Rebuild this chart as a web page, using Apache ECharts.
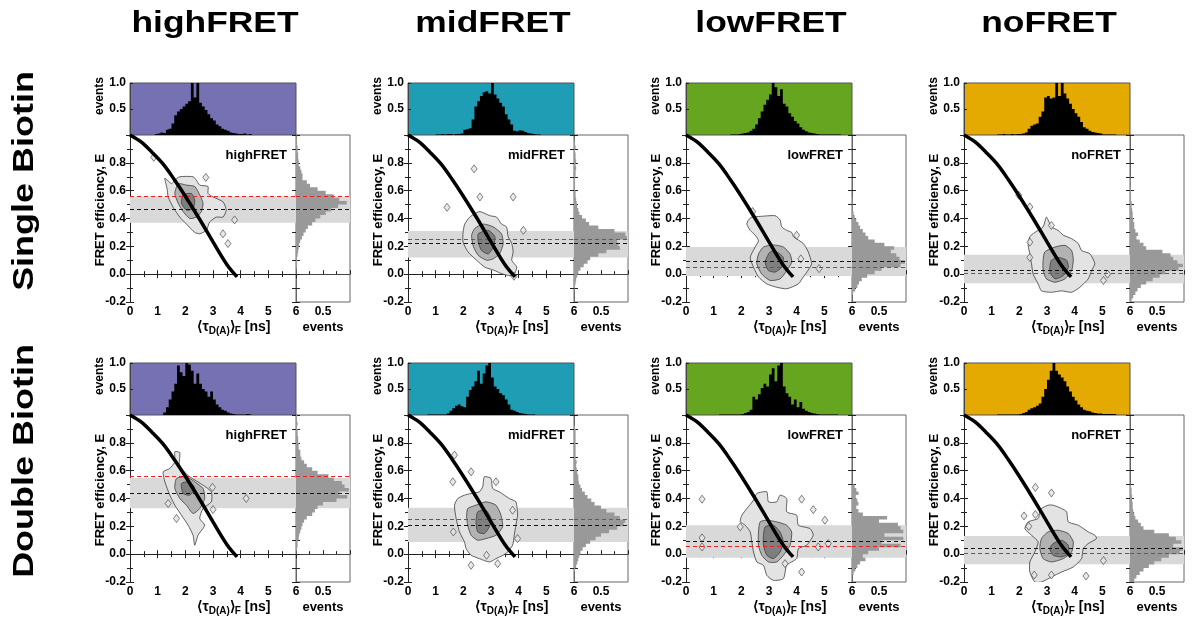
<!DOCTYPE html>
<html>
<head>
<meta charset="utf-8">
<script src="https://cdn.jsdelivr.net/npm/echarts@6/dist/echarts.min.js"></script>
<style>
  html, body { margin: 0; padding: 0; background: #fff; }
  #chart { width: 1192px; height: 626px; }
</style>
</head>
<body>
<div id="chart"></div>
<script>
// ---------------------------------------------------------------------------
// Data
// ---------------------------------------------------------------------------
const columnNames = ['highFRET', 'midFRET', 'lowFRET', 'noFRET'];
const rowNames = ['Single Biotin', 'Double Biotin'];
const columnColors = ['#7571b3', '#1f9db4', '#66a51f', '#e5aa02'];

// lifetime histograms (0.1 ns bins from 0 to 6 ns, normalised to peak)
const TAU_BIN = 0.1;
const tauSingleHigh = [0,0,0,0,0,0,0,0,0,0.02,0.03,0.05,0.04,0.1,0.12,0.22,0.38,0.45,0.5,0.55,0.6,0.65,1.0,0.72,1.0,0.62,0.55,0.48,0.4,0.32,0.28,0.2,0.17,0.12,0.1,0.08,0.05,0.04,0.03,0.02,0.02,0.03,0.01,0.02,0,0,0,0,0,0,0,0,0,0,0,0,0,0,0,0];
const tauSingleMid = [0,0,0,0,0,0,0,0,0,0,0.01,0.01,0.02,0.01,0.02,0.02,0.01,0.02,0.02,0.03,0.1,0.11,0.13,0.3,0.55,0.65,0.75,0.82,0.84,0.8,1.0,0.78,0.7,0.62,0.55,0.4,0.3,0.2,0.08,0.07,0.09,0.08,0.06,0.04,0.03,0.02,0.01,0.01,0,0,0,0,0,0,0,0,0,0,0,0];
const tauSingleLow = [0,0,0,0,0,0,0,0,0,0,0,0,0,0,0,0,0.01,0.01,0.01,0.02,0.03,0.04,0.05,0.08,0.12,0.2,0.32,0.45,0.58,0.68,0.78,1.0,0.92,0.75,0.88,0.6,0.55,0.42,0.35,0.27,0.22,0.15,0.1,0.07,0.05,0.04,0.03,0.02,0.01,0.01,0.01,0.01,0.01,0.01,0.01,0.01,0,0,0,0];
const tauSingleNo = [0,0,0,0,0,0,0,0,0,0,0,0,0.01,0.01,0.02,0.01,0.01,0.02,0.01,0.02,0.02,0.03,0.05,0.12,0.18,0.2,0.22,0.35,0.45,0.72,0.75,0.7,0.72,1.0,0.75,1.0,0.8,0.7,0.6,0.5,0.42,0.35,0.25,0.15,0.12,0.08,0.06,0.05,0.04,0.03,0.01,0.01,0.01,0.01,0.01,0,0,0,0,0];
const tauDoubleHigh = [0,0,0,0,0,0,0,0,0,0,0,0,0.05,0.15,0.3,0.45,0.6,0.95,0.82,0.75,1.0,0.97,0.85,0.6,0.8,0.6,0.5,0.45,0.35,0.45,0.3,0.2,0.15,0.1,0.08,0.05,0.03,0.02,0.01,0.01,0.01,0.01,0.02,0.01,0,0,0,0,0,0,0,0,0,0,0,0,0,0,0,0];
const tauDoubleMid = [0,0,0,0,0,0,0,0.01,0.01,0.01,0.01,0.01,0.01,0.01,0.03,0.08,0.13,0.18,0.2,0.17,0.15,0.35,0.48,0.55,0.65,0.85,0.6,0.8,0.95,1.0,0.72,0.55,0.5,0.42,0.38,0.3,0.2,0.1,0.08,0.06,0.04,0.03,0.02,0.01,0.01,0.01,0,0,0,0,0,0,0,0,0,0,0,0,0,0];
const tauDoubleLow = [0,0,0,0,0,0,0,0,0,0,0,0,0.01,0.01,0.01,0.01,0.01,0.01,0.01,0.01,0.02,0.04,0.06,0.1,0.35,0.3,0.4,0.52,0.6,0.55,0.78,0.9,0.65,0.95,1.0,0.55,0.42,0.35,0.2,0.3,0.15,0.25,0.12,0.08,0.06,0.04,0.03,0.02,0.01,0.01,0.01,0.01,0.01,0.01,0.01,0,0,0,0,0];
const tauDoubleNo = [0,0,0,0,0,0,0,0,0,0,0,0,0.01,0.01,0.01,0.01,0.01,0.01,0.01,0.01,0.02,0.04,0.06,0.1,0.13,0.15,0.18,0.22,0.35,0.5,0.68,0.85,1.0,0.85,0.78,0.72,0.65,0.55,0.45,0.35,0.28,0.2,0.15,0.1,0.08,0.07,0.05,0.04,0.03,0.03,0.02,0.02,0.02,0.02,0.02,0,0,0,0,0];

// FRET efficiency histograms (0.025 bins from -0.2 to 1.0)
const E_BIN = 0.025, E_START = -0.2;
const eSingleHigh = [0,0,0,0,0,0,0,0,0.01,0.01,0.02,0.02,0.02,0.03,0.04,0.05,0.06,0.08,0.11,0.14,0.18,0.22,0.3,0.36,0.45,0.55,0.65,0.78,0.94,0.8,0.7,0.55,0.4,0.26,0.2,0.12,0.12,0.1,0.08,0.05,0.05,0.04,0.04,0.03,0.03,0.02,0.02,0.01];
const eSingleMid = [0,0,0,0.01,0.02,0.03,0.04,0.06,0.08,0.12,0.18,0.25,0.3,0.45,0.6,0.85,0.82,0.8,0.98,0.95,0.75,0.45,0.28,0.22,0.15,0.1,0.08,0.06,0.05,0.04,0.03,0.03,0.02,0.02,0.02,0.02,0.03,0.03,0.04,0.03,0.04,0.03,0.03,0.02,0.03,0.02,0.01,0];
const eSingleLow = [0,0,0.02,0.06,0.1,0.13,0.18,0.28,0.42,0.55,0.9,0.98,0.88,0.82,0.72,0.78,0.6,0.42,0.3,0.25,0.2,0.15,0.12,0.08,0.05,0.03,0.01,0.01,0.01,0.01,0,0,0,0,0,0,0,0,0,0,0,0,0,0,0,0,0,0];
const eSingleNo = [0.03,0.06,0.1,0.14,0.2,0.3,0.42,0.55,0.65,0.9,0.98,0.88,0.8,0.75,0.6,0.3,0.25,0.18,0.12,0.15,0.1,0.08,0.08,0.06,0.05,0.05,0.04,0.03,0.03,0.02,0.02,0.02,0.02,0.01,0.01,0.01,0,0,0,0,0,0,0,0,0,0,0,0];
const eDoubleHigh = [0,0,0,0,0,0,0,0,0.01,0.02,0.03,0.03,0.05,0.06,0.08,0.1,0.12,0.15,0.2,0.3,0.35,0.4,0.5,0.75,0.95,0.8,0.98,0.9,0.85,0.7,0.6,0.4,0.3,0.2,0.15,0.1,0.08,0.08,0.05,0.05,0.04,0.04,0.03,0.03,0.02,0.03,0.02,0.02];
const eDoubleMid = [0,0,0,0.02,0.04,0.06,0.08,0.1,0.12,0.16,0.22,0.3,0.4,0.5,0.65,0.8,0.92,0.95,0.85,0.75,0.6,0.5,0.38,0.32,0.25,0.2,0.15,0.12,0.09,0.08,0.08,0.06,0.05,0.04,0.05,0.03,0.03,0.03,0.03,0.03,0.03,0.03,0.03,0.03,0.02,0,0,0];
const eDoubleLow = [0,0,0.03,0.06,0.1,0.15,0.25,0.2,0.3,0.5,0.9,0.55,0.95,0.6,0.95,0.9,0.85,0.5,0.65,0.2,0.12,0.08,0.12,0.1,0.07,0.12,0.08,0.05,0,0,0,0,0,0,0,0,0,0,0,0,0,0,0,0,0,0,0,0];
const eDoubleNo = [0.08,0.12,0.18,0.25,0.35,0.45,0.58,0.72,0.92,0.98,0.8,0.95,0.85,0.72,0.45,0.25,0.2,0.15,0.1,0.08,0.06,0.05,0.05,0.04,0.04,0.03,0.03,0.02,0,0,0,0,0,0,0,0,0,0,0,0,0,0,0,0,0,0,0,0];

// shaded E range, mean E (black dashed) and reference E (red dashed) per column
const bandLoSingle = [0.37, 0.12, -0.014, -0.065];
const bandHiSingle = [0.56, 0.31, 0.195, 0.14];
const meanESingle = [0.465, 0.219, 0.094, 0.034];
const refESingle = [0.555, 0.248, 0.05, 0.012];
const bandLoDouble = [0.33, 0.088, -0.025, -0.073];
const bandHiDouble = [0.55, 0.333, 0.208, 0.131];
const meanEDouble = [0.438, 0.206, 0.088, 0.035];
const refEDouble = [0.56, 0.251, 0.06, 0.014];

// static FRET line (tau in ns, E)
const staticLine = [[0,1.0],[0.4,0.95],[0.8,0.875],[1.2,0.79],[1.6,0.68],[2.0,0.56],[2.5,0.4],[3.0,0.232],[3.5,0.07],[3.87,-0.02]];

// 2D density contours (outer, middle, inner level) and isolated islands
const SH_outer = [[1.26,0.69],[1.5,0.65],[1.62,0.675],[1.8,0.70],[2.28,0.70],[2.4,0.675],[2.52,0.64],[2.82,0.63],[2.82,0.58],[3.0,0.555],[3.36,0.52],[3.48,0.46],[3.36,0.41],[3.12,0.41],[2.88,0.375],[2.76,0.315],[2.52,0.29],[2.34,0.3],[2.04,0.36],[1.8,0.41],[1.56,0.48],[1.38,0.555],[1.34,0.615]];
const SH_mid = [[1.74,0.65],[2.04,0.64],[2.34,0.63],[2.52,0.57],[2.64,0.51],[2.58,0.45],[2.4,0.41],[2.16,0.40],[1.92,0.45],[1.74,0.51],[1.62,0.58]];
const SH_core = [[1.92,0.57],[2.22,0.58],[2.34,0.53],[2.28,0.47],[2.04,0.46],[1.86,0.51]];
const SH_islands = [[0.86,0.84],[2.74,0.695],[3.78,0.39],[3.36,0.29],[3.54,0.22]];

const SM_outer = [[2.05,0.36],[2.23,0.41],[2.42,0.435],[2.6,0.45],[2.96,0.42],[3.2,0.41],[3.38,0.36],[3.56,0.34],[3.62,0.27],[3.75,0.22],[3.8,0.16],[3.75,0.1],[3.93,0.05],[3.8,-0.01],[3.44,0.0],[3.08,0.03],[2.78,0.05],[2.48,0.1],[2.17,0.16],[1.99,0.23],[1.99,0.3]];
const SM_mid = [[2.3,0.28],[2.42,0.33],[2.72,0.36],[3.08,0.34],[3.38,0.29],[3.44,0.22],[3.32,0.15],[3.08,0.11],[2.84,0.1],[2.54,0.135],[2.36,0.2]];
const SM_core = [[2.54,0.29],[2.9,0.315],[3.14,0.27],[3.08,0.195],[2.9,0.145],[2.66,0.17],[2.54,0.23]];
const SM_islands = [[1.41,0.48],[2.39,0.757],[2.6,0.555],[3.8,0.555],[4.17,0.315],[3.83,-0.015]];

const SL_outer = [[2.26,0.39],[2.38,0.41],[2.68,0.415],[3.22,0.42],[3.4,0.39],[3.46,0.34],[3.64,0.315],[3.82,0.30],[3.88,0.27],[4.24,0.22],[4.42,0.16],[4.54,0.075],[4.42,0.03],[4.24,-0.02],[4.06,-0.07],[3.64,-0.105],[3.28,-0.094],[2.92,-0.07],[2.62,-0.02],[2.44,0.05],[2.32,0.12],[2.5,0.195],[2.62,0.24],[2.5,0.28],[2.32,0.315],[2.2,0.36]];
const SL_mid = [[2.62,0.145],[2.8,0.195],[3.16,0.21],[3.52,0.195],[3.76,0.145],[3.82,0.085],[3.64,0.025],[3.4,-0.034],[3.04,-0.045],[2.74,0.0],[2.56,0.075]];
const SL_core = [[2.86,0.087],[3.04,0.16],[3.28,0.16],[3.52,0.12],[3.46,0.05],[3.22,0.015],[2.98,0.026]];
const SL_islands = [[2.41,0.45],[4.0,0.28],[4.81,0.04],[4.15,0.11]];

const SN_outer = [[2.32,0.207],[2.38,0.27],[2.56,0.30],[2.86,0.34],[2.98,0.41],[3.16,0.34],[3.4,0.315],[3.59,0.28],[3.89,0.255],[4.13,0.22],[4.25,0.17],[4.55,0.147],[4.73,0.075],[4.61,0.026],[4.49,-0.034],[4.19,-0.094],[3.89,-0.13],[3.53,-0.12],[3.16,-0.13],[2.8,-0.12],[2.68,-0.07],[2.5,0.0],[2.44,0.075],[2.38,0.147]];
const SN_mid = [[2.86,0.1],[2.92,0.16],[3.29,0.195],[3.65,0.207],[3.89,0.17],[3.95,0.1],[3.89,0.026],[3.65,-0.034],[3.29,-0.058],[2.98,-0.034],[2.86,0.026]];
const SN_core = [[3.11,0.06],[3.16,0.1],[3.4,0.12],[3.71,0.1],[3.77,0.05],[3.59,-0.01],[3.29,-0.034],[3.11,0.014]];
const SN_islands = [[1.98,0.567],[2.38,0.483],[3.16,0.35],[2.38,0.23],[2.38,0.12],[5.04,-0.045],[5.19,0.0]];

const DH_outer = [[1.62,0.736],[1.8,0.73],[1.78,0.64],[1.92,0.6],[2.16,0.556],[2.64,0.496],[2.94,0.448],[2.94,0.376],[2.64,0.328],[2.52,0.256],[2.7,0.208],[2.46,0.136],[2.34,0.064],[2.28,0.136],[2.1,0.208],[1.86,0.28],[1.62,0.352],[1.44,0.424],[1.26,0.52],[1.2,0.592],[1.44,0.616],[1.62,0.664]];
const DH_mid = [[1.68,0.544],[2.04,0.556],[2.34,0.52],[2.64,0.472],[2.7,0.4],[2.52,0.328],[2.28,0.292],[2.04,0.352],[1.8,0.4],[1.62,0.472]];
const DH_core = [[1.86,0.508],[2.16,0.52],[2.34,0.472],[2.16,0.424],[1.92,0.436]];
const DH_islands = [[1.38,0.364],[3.0,0.32],[2.98,0.48],[4.2,0.4],[1.68,0.256]];

const DM_outer = [[1.8,0.4],[2.04,0.424],[2.28,0.436],[2.58,0.448],[2.7,0.484],[2.76,0.556],[3.0,0.544],[3.06,0.472],[3.3,0.448],[3.66,0.4],[3.9,0.376],[3.96,0.28],[3.9,0.208],[3.84,0.136],[3.78,0.064],[3.54,0.004],[3.18,-0.032],[2.94,-0.056],[2.58,-0.032],[2.28,-0.008],[2.1,0.04],[2.04,0.088],[1.86,0.16],[1.74,0.256],[1.68,0.352]];
const DM_mid = [[2.16,0.328],[2.46,0.352],[2.82,0.376],[3.18,0.352],[3.36,0.28],[3.42,0.196],[3.18,0.136],[2.82,0.112],[2.52,0.1],[2.28,0.136],[2.16,0.208],[2.12,0.268]];
const DM_core = [[2.52,0.304],[2.82,0.316],[3.0,0.256],[2.94,0.196],[2.76,0.148],[2.52,0.16],[2.46,0.232]];
const DM_islands = [[1.62,0.52],[1.64,0.16],[2.28,-0.08],[2.84,-0.008],[3.24,-0.068],[3.96,0.112],[3.78,0.316],[3.18,0.52],[1.68,0.712],[2.28,0.592]];

const DL_outer = [[2.2,0.328],[2.44,0.388],[2.56,0.436],[2.92,0.448],[2.98,0.376],[3.28,0.376],[3.4,0.424],[3.64,0.4],[3.64,0.304],[4.0,0.28],[4.06,0.208],[4.48,0.184],[4.6,0.136],[4.36,0.064],[4.06,0.04],[4.0,-0.032],[3.64,-0.08],[3.52,-0.176],[3.16,-0.188],[2.92,-0.152],[2.8,-0.08],[2.56,-0.056],[2.44,0.016],[2.38,0.088],[2.32,0.16],[2.14,0.208],[1.96,0.232],[2.02,0.28]];
const DL_mid = [[2.62,0.16],[2.68,0.232],[2.92,0.244],[3.28,0.232],[3.64,0.208],[3.82,0.16],[3.76,0.064],[3.52,-0.008],[3.28,-0.056],[2.98,-0.056],[2.74,-0.008],[2.62,0.064]];
const DL_core = [[2.8,0.136],[2.86,0.196],[3.16,0.208],[3.4,0.16],[3.52,0.088],[3.4,0.016],[3.16,-0.032],[2.92,-0.008],[2.8,0.064]];
const DL_islands = [[0.58,0.395],[0.58,0.117],[0.58,0.052],[1.96,0.196],[4.18,0.395],[4.6,0.32],[5.02,0.244],[5.14,0.076],[4.78,0.052],[4.18,-0.128],[3.58,-0.068]];

const DN_outer = [[2.74,0.304],[2.8,0.328],[3.04,0.352],[3.22,0.352],[3.53,0.328],[3.71,0.304],[3.77,0.232],[4.13,0.208],[4.49,0.16],[4.73,0.136],[4.79,0.112],[4.49,0.076],[4.31,0.04],[4.25,-0.032],[3.95,-0.092],[3.53,-0.128],[3.16,-0.164],[2.8,-0.2],[2.56,-0.2],[2.38,-0.128],[2.38,-0.056],[2.56,0.016],[2.68,0.088],[2.44,0.136],[2.2,0.184],[2.32,0.232],[2.68,0.256]];
const DN_mid = [[2.74,0.04],[2.8,0.112],[3.04,0.16],[3.4,0.172],[3.77,0.148],[3.95,0.088],[3.89,0.016],[3.59,-0.032],[3.16,-0.056],[2.86,-0.032]];
const DN_core = [[3.1,0.04],[3.22,0.076],[3.53,0.1],[3.77,0.064],[3.77,0.004],[3.53,-0.02],[3.22,-0.008]];
const DN_islands = [[2.58,0.48],[3.16,0.44],[2.17,0.275],[2.58,0.285],[2.34,0.2],[3.16,-0.15],[2.54,-0.15],[4.41,-0.157],[5.04,-0.046]];

// ---------------------------------------------------------------------------
// Panel assembly
// ---------------------------------------------------------------------------
const panels = [
  { row: 0, col: 0, tau: tauSingleHigh, e: eSingleHigh, levels: [SH_outer, SH_mid, SH_core], islands: SH_islands },
  { row: 0, col: 1, tau: tauSingleMid,  e: eSingleMid,  levels: [SM_outer, SM_mid, SM_core], islands: SM_islands },
  { row: 0, col: 2, tau: tauSingleLow,  e: eSingleLow,  levels: [SL_outer, SL_mid, SL_core], islands: SL_islands },
  { row: 0, col: 3, tau: tauSingleNo,   e: eSingleNo,   levels: [SN_outer, SN_mid, SN_core], islands: SN_islands },
  { row: 1, col: 0, tau: tauDoubleHigh, e: eDoubleHigh, levels: [DH_outer, DH_mid, DH_core], islands: DH_islands },
  { row: 1, col: 1, tau: tauDoubleMid,  e: eDoubleMid,  levels: [DM_outer, DM_mid, DM_core], islands: DM_islands },
  { row: 1, col: 2, tau: tauDoubleLow,  e: eDoubleLow,  levels: [DL_outer, DL_mid, DL_core], islands: DL_islands },
  { row: 1, col: 3, tau: tauDoubleNo,   e: eDoubleNo,   levels: [DN_outer, DN_mid, DN_core], islands: DN_islands }
];
const bandLo = [bandLoSingle, bandLoDouble];
const bandHi = [bandHiSingle, bandHiDouble];
const meanE = [meanESingle, meanEDouble];
const refE = [refESingle, refEDouble];

// layout (px)
const COL_X = [130, 408, 686, 964];
const ROW_Y = [83, 363];
const MAIN_W = 166, TOP_H = 52, MAIN_H = 167, SIDE_W = 54;
const FONT = '"Liberation Sans", Arial, Helvetica, sans-serif';
const LEVEL_FILL = ['#e3e3e3', '#b2b2b2', '#7f7f7f'];
const BAND_COLOR = '#d9d9d9';

const labelStyle = { fontFamily: FONT, fontWeight: 'bold', fontSize: 12, color: '#000' };
const frameLine = { show: true, lineStyle: { color: '#222', width: 1 } };
const tickIn = { show: true, inside: true, length: 4, lineStyle: { color: '#222', width: 1 } };
const minorIn = { show: true, splitNumber: 2, length: 3, lineStyle: { color: '#222', width: 1 } };

const grids = [], xAxes = [], yAxes = [], series = [], texts = [];

// step outline of a histogram, drawn as one filled polygon
function stepPolygon(values, start, width, horizontal, fill) {
  return function (params, api) {
    const pts = [];
    const base = (pos) => horizontal ? api.coord([0, pos]) : api.coord([pos, 0]);
    const at = (pos, v) => horizontal ? api.coord([v, pos]) : api.coord([pos, v]);
    pts.push(base(start));
    values.forEach((v, i) => {
      pts.push(at(start + i * width, v));
      pts.push(at(start + (i + 1) * width, v));
    });
    pts.push(base(start + values.length * width));
    return { type: 'polygon', shape: { points: pts }, style: { fill: fill } };
  };
}

panels.forEach((pn, p) => {
  const x0 = COL_X[pn.col];
  const topTop = ROW_Y[pn.row];
  const mainTop = topTop + TOP_H;
  const gMain = 3 * p, gTop = 3 * p + 1, gSide = 3 * p + 2;
  const xm = 4 * p, xt = 4 * p + 2, xs = 4 * p + 3;
  const ym = 5 * p, yt = 5 * p + 2, ysr = 5 * p + 3;

  grids.push({ left: x0, top: mainTop, width: MAIN_W, height: MAIN_H, show: false, outerBoundsMode: 'none' });
  grids.push({ left: x0, top: topTop, width: MAIN_W, height: TOP_H, show: true,
    backgroundColor: columnColors[pn.col], borderColor: '#555', borderWidth: 1, outerBoundsMode: 'none' });
  grids.push({ left: x0 + MAIN_W, top: mainTop, width: SIDE_W, height: MAIN_H, show: true,
    backgroundColor: 'transparent', borderColor: '#666', borderWidth: 1, outerBoundsMode: 'none' });

  // main scatter axes
  xAxes.push({ gridIndex: gMain, type: 'value', position: 'bottom', min: 0, max: 6, interval: 1,
    axisLine: frameLine, axisTick: tickIn, minorTick: minorIn, splitLine: { show: false },
    axisLabel: Object.assign({ margin: 4 }, labelStyle) });
  xAxes.push({ gridIndex: gMain, type: 'value', position: 'top', min: 0, max: 6, interval: 1,
    axisLine: frameLine, axisTick: tickIn, minorTick: minorIn, splitLine: { show: false },
    axisLabel: { show: false } });
  // lifetime histogram
  xAxes.push({ gridIndex: gTop, type: 'value', min: 0, max: 6, show: false, splitLine: { show: false } });
  // efficiency histogram
  xAxes.push({ gridIndex: gSide, type: 'value', position: 'bottom', min: 0, max: 1, interval: 0.5,
    axisLine: { show: true, lineStyle: { color: '#444' } }, axisTick: tickIn,
    minorTick: minorIn, splitLine: { show: false },
    axisLabel: Object.assign({ margin: 4, formatter: v => (Math.abs(v - 0.5) < 1e-6 ? '0.5' : '') }, labelStyle) });

  yAxes.push({ gridIndex: gMain, type: 'value', position: 'left', min: -0.2, max: 1.0, interval: 0.2,
    axisLine: frameLine, axisTick: tickIn, minorTick: minorIn, splitLine: { show: false },
    axisLabel: Object.assign({ margin: 4, formatter: v => (v > 0.95 ? '' : v.toFixed(1)) }, labelStyle) });
  yAxes.push({ gridIndex: gMain, type: 'value', position: 'right', min: -0.2, max: 1.0, interval: 0.2,
    axisLine: frameLine, axisTick: tickIn, minorTick: minorIn, splitLine: { show: false },
    axisLabel: { show: false } });
  yAxes.push({ gridIndex: gTop, type: 'value', position: 'left', min: 0, max: 1, interval: 0.5,
    axisLine: { show: true, lineStyle: { color: '#444' } }, axisTick: { show: true, inside: true, length: 3, lineStyle: { color: '#222' } },
    splitLine: { show: false },
    axisLabel: Object.assign({ margin: 4, formatter: v => (v < 0.01 ? '' : v.toFixed(1)) }, labelStyle) });
  yAxes.push({ gridIndex: gSide, type: 'value', position: 'right', min: -0.2, max: 1.0, interval: 0.1,
    axisLine: { show: true, lineStyle: { color: '#666' } }, axisTick: tickIn, splitLine: { show: false },
    axisLabel: { show: false } });
  yAxes.push({ gridIndex: gSide, type: 'value', position: 'left', min: -0.2, max: 1.0, interval: 0.1,
    axisLine: { show: false }, axisTick: tickIn, splitLine: { show: false },
    axisLabel: { show: false } });

  const lo = bandLo[pn.row][pn.col], hi = bandHi[pn.row][pn.col];
  const mE = meanE[pn.row][pn.col], rE = refE[pn.row][pn.col];
  const dashLines = [
    { yAxis: mE, lineStyle: { color: '#111', type: [4, 3], width: 1 } },
    { yAxis: rE, lineStyle: { color: '#e8201f', type: [4, 3], width: 1 } }
  ];

  // shaded E range behind the scatter and the E histogram
  [[xm, ym], [xs, ysr]].forEach(([xi, yi]) => {
    series.push({ type: 'line', xAxisIndex: xi, yAxisIndex: yi, data: [], z: 1, silent: true,
      markArea: { silent: true, itemStyle: { color: BAND_COLOR }, data: [[{ yAxis: lo }, { yAxis: hi }]] } });
  });

  // density contours
  series.push({
    type: 'custom', xAxisIndex: xm, yAxisIndex: ym, z: 2, clip: true, silent: true,
    data: pn.levels.map(poly => poly[0]),
    renderItem: (params, api) => {
      const poly = pn.levels[params.dataIndex];
      return {
        type: 'polygon',
        shape: { points: poly.map(pt => api.coord(pt)), smooth: 0.2 },
        style: { fill: LEVEL_FILL[params.dataIndex], stroke: '#3c3c3c', lineWidth: 0.8 }
      };
    }
  });
  series.push({
    type: 'scatter', xAxisIndex: xm, yAxisIndex: ym, z: 3, silent: true,
    symbol: 'diamond', symbolSize: [6, 8], data: pn.islands,
    itemStyle: { color: '#e3e3e3', borderColor: '#3c3c3c', borderWidth: 0.8 }
  });

  // top histogram of lifetimes
  series.push({
    type: 'custom', xAxisIndex: xt, yAxisIndex: yt, z: 2, silent: true,
    data: [[0, 0]],
    renderItem: stepPolygon(pn.tau, 0, TAU_BIN, false, '#000')
  });
  // side histogram of efficiencies
  series.push({
    type: 'custom', xAxisIndex: xs, yAxisIndex: ysr, z: 2, silent: true,
    data: [[0, 0]],
    renderItem: stepPolygon(pn.e, E_START, E_BIN, true, '#999')
  });

  // dashed reference lines
  [[xm, ym], [xs, ysr]].forEach(([xi, yi]) => {
    series.push({ type: 'line', xAxisIndex: xi, yAxisIndex: yi, data: [], z: 4, silent: true,
      markLine: { silent: true, symbol: ['none', 'none'], label: { show: false }, data: dashLines } });
  });

  // static FRET line
  series.push({
    type: 'line', xAxisIndex: xm, yAxisIndex: ym, z: 5, silent: true,
    data: staticLine, smooth: 0.35, showSymbol: false,
    lineStyle: { color: '#000', width: 3.5 }
  });

  // texts of this panel
  const mainBottom = mainTop + MAIN_H;
  texts.push({ type: 'text', x: x0 + MAIN_W - 9, y: mainTop + 20, z: 10,
    style: { text: columnNames[pn.col], font: 'bold 13px ' + FONT, fill: '#000', align: 'right', verticalAlign: 'middle' } });
  texts.push({ type: 'text', x: x0 - 30, y: mainTop + 75, rotation: Math.PI / 2, z: 10,
    style: { text: 'FRET efficiency, E', font: 'bold 13px ' + FONT, fill: '#000', align: 'center', verticalAlign: 'middle' } });
  texts.push({ type: 'text', x: x0 - 30, y: topTop - 6, rotation: Math.PI / 2, z: 10,
    style: { text: 'events', font: 'bold 12px ' + FONT, fill: '#000', align: 'right', verticalAlign: 'middle' } });
  texts.push({ type: 'text', x: x0 + MAIN_W + SIDE_W / 2, y: mainBottom + 25, z: 10,
    style: { text: 'events', font: 'bold 13px ' + FONT, fill: '#000', align: 'center', verticalAlign: 'middle' } });
  texts.push({ type: 'text', x: x0 + (MAIN_W + SIDE_W) / 2 - 6, y: mainBottom + 25, z: 10,
    style: {
      text: '{m|\u27e8\u03c4}{s|D(A)}{m|\u27e9}{s|F}{m| [ns]}',
      align: 'center', verticalAlign: 'middle',
      rich: {
        m: { fontFamily: FONT, fontWeight: 'bold', fontSize: 14, lineHeight: 18, verticalAlign: 'middle', fill: '#000' },
        s: { fontFamily: FONT, fontWeight: 'bold', fontSize: 10, lineHeight: 10, verticalAlign: 'bottom', fill: '#000' }
      }
    } });
});

// column and row headings
columnNames.forEach((name, c) => {
  texts.push({ type: 'text', x: COL_X[c] + MAIN_W / 2 + 2, y: 24, scaleX: 1.22, z: 10,
    style: { text: name, font: 'bold 29px ' + FONT, fill: '#000', align: 'center', verticalAlign: 'middle' } });
});
rowNames.forEach((name, r) => {
  texts.push({ type: 'text', x: 25, y: ROW_Y[r] + 98, rotation: Math.PI / 2, scaleX: 1.24, z: 10,
    style: { text: name, font: 'bold 29px ' + FONT, fill: '#000', align: 'center', verticalAlign: 'middle' } });
});

const chart = echarts.init(document.getElementById('chart'), null, { renderer: 'canvas' });
chart.setOption({
  animation: false,
  backgroundColor: '#fff',
  grid: grids,
  xAxis: xAxes,
  yAxis: yAxes,
  series: series,
  graphic: { elements: texts }
});
</script>
</body>
</html>
